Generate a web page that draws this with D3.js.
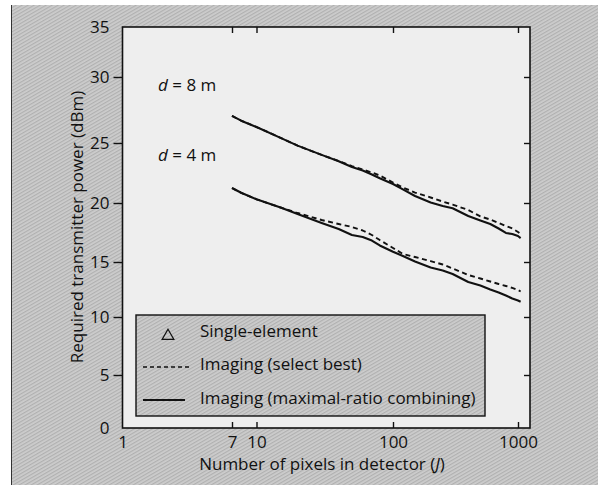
<!DOCTYPE html>
<html><head><meta charset="utf-8">
<script src="https://cdn.jsdelivr.net/npm/d3@7"></script>
<style>
html,body{margin:0;padding:0;background:#fff;}
svg{display:block;font-family:"Open Sans","Noto Sans",sans-serif;}
</style></head>
<body>
<script>
// ---- data ----
const pixelsJ = [7, 8, 10, 15, 20, 30, 40, 50, 60, 70, 80, 100, 120, 150, 200, 250, 300, 400, 500, 600, 700, 800, 900, 1000, 1050];
const mrc8  = [27.05, 26.69, 26.21, 25.39, 24.78, 24.01, 23.48, 23.0, 22.71, 22.38, 22.06, 21.58, 21.13, 20.58, 20.04, 19.75, 19.55, 18.9, 18.52, 18.22, 17.84, 17.46, 17.37, 17.2, 17.03];
const best8 = [27.05, 26.69, 26.21, 25.39, 24.78, 24.01, 23.5, 23.08, 22.79, 22.54, 22.29, 21.71, 21.29, 20.87, 20.46, 20.12, 19.87, 19.41, 18.86, 18.6, 18.31, 18.05, 17.84, 17.54, 17.37];
const mrc4  = [21.25, 20.85, 20.31, 19.62, 19.07, 18.31, 17.8, 17.29, 17.12, 16.82, 16.4, 15.87, 15.51, 15.04, 14.5, 14.23, 13.91, 13.18, 12.86, 12.5, 12.23, 11.95, 11.68, 11.5, 11.39];
const best4 = [21.25, 20.85, 20.31, 19.62, 19.15, 18.56, 18.22, 17.97, 17.67, 17.29, 16.86, 16.19, 15.68, 15.42, 15.08, 14.77, 14.41, 13.82, 13.5, 13.23, 13.0, 12.82, 12.64, 12.45, 12.32];
const xTicks = [1, 7, 10, 100, 1000];
const yTicks = [0, 5, 10, 15, 20, 25, 30, 35];
const legendLabels = ["Single-element", "Imaging (select best)", "Imaging (maximal-ratio combining)"];
const curveLabels = [{d: "8", v: 29.0}, {d: "4", v: 23.6}];

// ---- layout ----
const W = 598, H = 485, FS = 17;
const svg = d3.select("body").append("svg").attr("width", W).attr("height", H);
const plotBg = "#eeeeee", ink = "#111";

const defs = svg.append("defs");
const pat = defs.append("pattern").attr("id","hatch").attr("patternUnits","userSpaceOnUse")
  .attr("width",3).attr("height",3).attr("patternTransform","rotate(-30)");
pat.append("rect").attr("width",3).attr("height",3).attr("fill","#cdcdcd");
pat.append("rect").attr("width",3).attr("height",1.2).attr("fill","#b0b0b0");

svg.append("rect").attr("x",11).attr("y",5).attr("width",W-11).attr("height",H-5).attr("fill","url(#hatch)");
svg.append("line").attr("x1",11.5).attr("x2",11.5).attr("y1",5).attr("y2",H).attr("stroke","#333").attr("stroke-width",1);

const x = d3.scaleLog().domain([1, 7, 10, 100, 1000, 1250]).range([122.5, 232, 256.5, 393, 518, 530]);
const y = d3.scaleLinear().domain([0, 5, 10, 15, 20, 25, 30, 35]).range([428, 375, 317, 262, 203, 143, 77, 27]);
const [x0, x1] = [x(1), x(1250)], [y0, y1] = [y(0), y(35)];

svg.append("rect").attr("x",x0).attr("y",y1).attr("width",x1-x0).attr("height",y0-y1).attr("fill",plotBg);

// axes
const fmt = d => String(d);
const gL = svg.append("g").attr("transform",`translate(${x0},0)`)
  .call(d3.axisLeft(y).tickValues(yTicks).tickSize(9).tickPadding(4).tickFormat(fmt));
const gR = svg.append("g").attr("transform",`translate(${x1},0)`)
  .call(d3.axisRight(y).tickValues(yTicks.slice(1,-1)).tickSize(-6).tickFormat(""));
const gB = svg.append("g").attr("transform",`translate(0,${y0})`)
  .call(d3.axisBottom(x).tickValues(xTicks).tickSize(-6).tickPadding(8).tickFormat(fmt));
const gT = svg.append("g").attr("transform",`translate(0,${y1})`)
  .call(d3.axisTop(x).tickValues(xTicks.slice(1)).tickSize(-6).tickFormat(""));
[gL,gR,gB,gT].forEach(g => {
  g.select(".domain").remove();
  g.selectAll(".tick line").attr("stroke",ink).attr("stroke-width",1.4);
  g.selectAll("text").attr("fill",ink).attr("font-size",FS).attr("font-family","Open Sans, Noto Sans, sans-serif");
});
gB.selectAll(".tick").filter(d => d === 1).select("line").remove();
gL.selectAll(".tick").filter(d => d === 0 || d === 35).select("line").remove();
svg.append("rect").attr("x",x0).attr("y",y1).attr("width",x1-x0).attr("height",y0-y1)
  .attr("fill","none").attr("stroke",ink).attr("stroke-width",1.6);

// axis titles
const xt = svg.append("text").attr("x",322).attr("y",470).attr("text-anchor","middle").attr("font-size",FS).attr("fill",ink);
xt.append("tspan").text("Number of pixels in detector (");
xt.append("tspan").attr("font-style","italic").text("J");
xt.append("tspan").text(")");
svg.append("text").attr("transform","translate(83,227) rotate(-90)").attr("text-anchor","middle")
  .attr("font-size",FS).attr("fill",ink).text("Required transmitter power (dBm)");

// curves
const line = vals => d3.line().x((d,i) => x(pixelsJ[i])).y(d => y(d))(vals);
const series = [
  {v: best8, dash: "5,3.5", w: 1.9},
  {v: best4, dash: "5,3.5", w: 1.9},
  {v: mrc8, dash: null, w: 2.1},
  {v: mrc4, dash: null, w: 2.1}
];
series.forEach(s => {
  svg.append("path").attr("d", line(s.v)).attr("fill","none").attr("stroke",ink)
    .attr("stroke-width",s.w).attr("stroke-dasharray",s.dash).attr("stroke-linejoin","round");
});

// curve labels
curveLabels.forEach(c => {
  const t = svg.append("text").attr("x",158).attr("y",y(c.v)+1).attr("font-size",FS).attr("fill",ink);
  t.append("tspan").attr("font-style","italic").text("d");
  t.append("tspan").text(` = ${c.d} m`);
});

// legend
const lg = svg.append("g");
lg.append("rect").attr("x",136).attr("y",315).attr("width",349).attr("height",101)
  .attr("fill","url(#hatch)").attr("stroke",ink).attr("stroke-width",1.4);
const rows = [337, 370, 404];
lg.append("path").attr("d", d3.symbol().type(d3.symbolTriangle).size(60)())
  .attr("transform",`translate(168,336)`).attr("fill","none").attr("stroke",ink).attr("stroke-width",1.2);
lg.append("line").attr("x1",143).attr("x2",190).attr("y1",367).attr("y2",367)
  .attr("stroke",ink).attr("stroke-width",1.6).attr("stroke-dasharray","4,3");
lg.append("line").attr("x1",143).attr("x2",185).attr("y1",400).attr("y2",400)
  .attr("stroke",ink).attr("stroke-width",2);
legendLabels.forEach((t,i) => {
  lg.append("text").attr("x",200).attr("y",rows[i]).attr("font-size",FS).attr("fill",ink).text(t);
});
</script>
</body></html>
